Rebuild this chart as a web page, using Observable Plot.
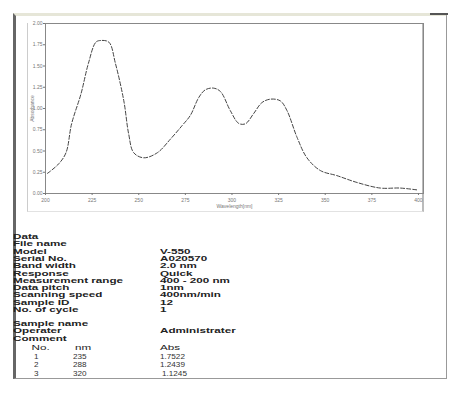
<!DOCTYPE html>
<html>
<head>
<meta charset="utf-8">
<script src="https://cdn.jsdelivr.net/npm/d3@7"></script>
<script src="https://cdn.jsdelivr.net/npm/@observablehq/plot@0.6"></script>
<style>
  html, body { margin: 0; padding: 0; background: #fff; }
  #wrap { position: relative; width: 464px; height: 395px; overflow: hidden; font-family: "Liberation Sans", Arial, sans-serif; }
  .abs { position: absolute; }
  .lbl { position: absolute; left: 13px; font-size: 6.3px; font-weight: bold; color: #222; line-height: 7px; height: 7px; white-space: nowrap; transform: scaleX(1.85); transform-origin: left top; }
  .row { position: absolute; font-size: 6.8px; color: #333; line-height: 7px; white-space: nowrap; transform: scale(1.2, 1.1); transform-origin: left top; }
</style>
</head>
<body>
<div id="wrap"></div>
<script>
// ---- data ----
const wavelength = [201, 207, 211, 214, 219, 223, 227, 229.5, 234, 237.5, 242, 244.6, 247.3, 252.7, 260, 267, 273.3, 277.7, 282.2, 285.7, 290, 293.8, 299.1, 303.6, 307.2, 311.6, 316.1, 320.6, 325.9, 329.5, 334.9, 340.2, 347.4, 356.3, 367, 379.5, 390.2, 400];
const absorbance = [0.236, 0.347, 0.48, 0.82, 1.17, 1.53, 1.78, 1.80, 1.78, 1.53, 1.09, 0.70, 0.48, 0.42, 0.48, 0.64, 0.80, 0.92, 1.13, 1.22, 1.24, 1.20, 0.975, 0.825, 0.82, 0.94, 1.07, 1.11, 1.09, 0.975, 0.66, 0.42, 0.27, 0.21, 0.13, 0.064, 0.064, 0.04];
const xTicks = [200, 225, 250, 275, 300, 325, 350, 375, 400];
const yTicks = [0, 0.25, 0.5, 0.75, 1.0, 1.25, 1.5, 1.75, 2.0];

const infoLabels = ["Data", "File name", "Model", "Serial No.", "Band width", "Response", "Measurement range", "Data pitch", "Scanning speed", "Sample ID", "No. of cycle"];
const infoValues = ["", "", "V-550", "A020570", "2.0 nm", "Quick", "400 - 200 nm", "1nm", "400nm/min", "12", "1"];
const sampleLabels = ["Sample name", "Operater", "Comment"];
const sampleValues = ["", "Administrater", ""];
const peakHeader = ["No.", "nm", "Abs"];
const peakNo = ["1", "2", "3"];
const peakNm = ["235", "288", "320"];
const peakAbs = ["1.7522", "1.2439", "1.1245"];

const data = wavelength.map((w, i) => ({w, a: absorbance[i]}));

const wrap = document.getElementById("wrap");
function box(style) { const d = document.createElement("div"); d.className = "abs"; Object.assign(d.style, style); wrap.appendChild(d); return d; }

// outer window frame
box({left: "13px", top: "13px", width: "434px", height: "366px", borderLeft: "3px solid #666", borderTop: "3px solid #e6e6d8", borderRight: "1px solid #999", borderBottom: "1px solid #999", boxSizing: "border-box"});
box({left: "430px", top: "13px", width: "18px", height: "2px", background: "#555"});
// chart panel
box({left: "27px", top: "23px", width: "397px", height: "189px", borderLeft: "1px solid #ccc", borderRight: "2px solid #bbb", borderBottom: "1px solid #e2e2e2", boxSizing: "border-box"});

const chart = Plot.plot({
  width: 464,
  height: 215,
  marginLeft: 45,
  marginRight: 41,
  marginTop: 23,
  marginBottom: 22,
  style: {fontSize: "5px", fontFamily: "Liberation Sans, Arial, sans-serif", color: "#777", background: "transparent"},
  x: {domain: [200, 402.7], ticks: xTicks, label: "Wavelength[nm]"},
  y: {domain: [0, 2], ticks: yTicks, label: "Absorbance"},
  marks: [
    Plot.frame({stroke: "#888"}),
    Plot.axisX({ticks: xTicks, tickSize: 2, tickPadding: 3, tickFormat: d => d, labelAnchor: "center", labelArrow: "none", labelOffset: 14, fill: "#777"}),
    Plot.axisY({ticks: yTicks, tickSize: 2, tickPadding: 1, tickFormat: d3.format(".2f"), labelAnchor: "center", labelArrow: "none", labelOffset: 15, fill: "#777"}),
    Plot.line(data, {x: "w", y: "a", stroke: "#444", strokeWidth: 1, strokeDasharray: "4,2", curve: "catmull-rom"})
  ]
});
chart.style.position = "absolute";
chart.style.left = "0px";
chart.style.top = "0px";
wrap.appendChild(chart);

// text section
const sx = 1.85;
const step = 7.3;
const valueX = (160 - 13) / sx;
function lblLine(top, label, value) {
  const d = document.createElement("div");
  d.className = "lbl";
  d.style.top = top + "px";
  d.innerHTML = `<span style="position:absolute;left:0">${label}</span><span style="position:absolute;left:${valueX}px">${value}</span>`;
  wrap.appendChild(d);
}
infoLabels.forEach((l, i) => lblLine(233 + i * step, l, infoValues[i]));
sampleLabels.forEach((l, i) => lblLine(320 + i * step, l, sampleValues[i]));
// header row
{
  const d = document.createElement("div");
  d.className = "lbl";
  d.style.top = "344px";
  d.style.fontWeight = "normal";
  d.innerHTML = `<span style="position:absolute;left:${(31.5-13)/sx}px">${peakHeader[0]}</span><span style="position:absolute;left:${(75-13)/sx}px">${peakHeader[1]}</span><span style="position:absolute;left:${valueX}px">${peakHeader[2]}</span>`;
  wrap.appendChild(d);
}
const rowTops = [352, 360, 368.5];
peakNo.forEach((n, i) => {
  const mk = (x, t) => { const s = document.createElement("div"); s.className = "row"; s.style.left = x + "px"; s.style.top = rowTops[i] + "px"; s.textContent = t; wrap.appendChild(s); };
  mk(34, n);
  mk(73, peakNm[i]);
  mk(160 + (i === 2 ? 1.5 : 0), peakAbs[i]);
});
</script>
</body>
</html>
